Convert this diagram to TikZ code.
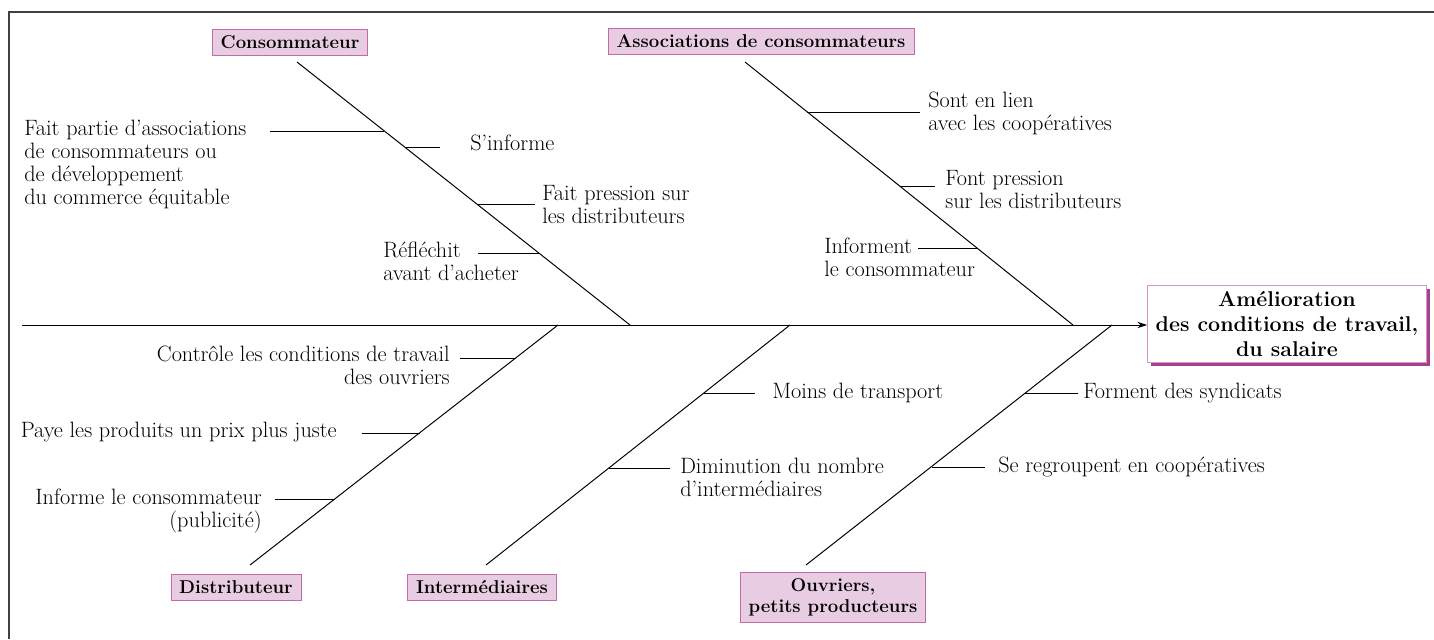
\documentclass[tikz,border=0pt]{standalone}
\usepackage{xcolor}
\usetikzlibrary{arrows.meta,shadows}

\definecolor{causefill}{HTML}{E8CCE2}
\definecolor{causeline}{HTML}{C26AAC}
\definecolor{effectshadow}{HTML}{A4428C}
\newcommand{\fishtxt}{\fontsize{15.8}{16.2}\selectfont}
\newcommand{\causetxt}{\fontsize{13.2}{15}\selectfont\bfseries}
\newcommand{\effecttxt}{\fontsize{15.2}{17.5}\selectfont\bfseries}

\tikzset{
  cause/.style={draw=causeline, fill=causefill, font=\causetxt,
    inner xsep=6pt, inner ysep=4.5pt, align=center},
  effect/.style={draw=causeline!70, fill=white, font=\effecttxt,
    align=center, minimum width=6.975cm, minimum height=1.925cm, inner sep=1pt,
    drop shadow={shadow xshift=2.5pt, shadow yshift=-2.5pt, fill=effectshadow, opacity=1}},
  lbl/.style={font=\fishtxt, inner sep=0pt},
  bone/.style={line width=0.7pt},
  twig/.style={line width=0.6pt},
}

\begin{document}
\begin{tikzpicture}[x=0.025cm,y=-0.025cm]
  \useasboundingbox (0,0) rectangle (1434,639);
  \draw[line width=0.9pt, black!75] (9,639) -- (9,12) -- (1434,12);

  % causes
  \node[cause] (cons) at (290,42) {Consommateur};
  \node[cause] (assoc) at (761,41) {Associations de consommateurs};
  \node[cause] (dist) at (236,587) {Distributeur};
  \node[cause] (inter) at (482,587) {Interm\'ediaires};
  \node[cause] (ouv) at (833,597) {Ouvriers,\\petits producteurs};
  \node[effect] (eff) at (1287,324) {Am\'elioration\\des conditions de travail,\\du salaire};

  % spine
  \coordinate (tail) at (22,325);
  \draw[bone,-{Stealth[length=7pt,width=4.5pt]}] (tail) -- (tail -| eff.west);

  % bones
  \coordinate (consA) at (297,62);    \coordinate (consB) at (630,325);
  \coordinate (assocA) at (745,62);   \coordinate (assocB) at (1073,325);
  \coordinate (distA) at (558,325);   \coordinate (distB) at (250,565);
  \coordinate (interA) at (790,325);  \coordinate (interB) at (486,565);
  \coordinate (ouvA) at (1112,325);   \coordinate (ouvB) at (806,565);
  \draw[bone] (consA) -- (consB);
  \draw[bone] (assocA) -- (assocB);
  \draw[bone] (distA) -- (distB);
  \draw[bone] (interA) -- (interB);
  \draw[bone] (ouvA) -- (ouvB);

  % Consommateur
  \node[lbl, anchor=north west, align=left] (c1) at (24,120)
    {Fait partie d'associations\\de consommateurs ou\\de d\'eveloppement\\du commerce \'equitable};
  \coordinate (c1a) at (270,131); \coordinate (c1b) at (384,131);
  \draw[twig] (c1a) -- (c1b);
  \node[lbl, anchor=west] (c2) at (470,143) {S'informe};
  \coordinate (c2a) at (405,147); \coordinate (c2b) at (440,147);
  \draw[twig] (c2a) -- (c2b);
  \node[lbl, anchor=north west, align=left] (c3) at (542,185) {Fait pression sur\\les distributeurs};
  \coordinate (c3a) at (477,204); \coordinate (c3b) at (535,204);
  \draw[twig] (c3a) -- (c3b);
  \node[lbl, anchor=north west, align=left] (c4) at (383,242) {R\'efl\'echit\\avant d'acheter};
  \coordinate (c4a) at (478,253); \coordinate (c4b) at (539,253);
  \draw[twig] (c4a) -- (c4b);

  % Associations de consommateurs
  \node[lbl, anchor=north west, align=left] (a1) at (928,92) {Sont en lien\\avec les coop\'eratives};
  \coordinate (a1a) at (807,112); \coordinate (a1b) at (920,112);
  \draw[twig] (a1a) -- (a1b);
  \node[lbl, anchor=north west, align=left] (a2) at (945,170) {Font pression\\sur les distributeurs};
  \coordinate (a2a) at (900,186); \coordinate (a2b) at (935,186);
  \draw[twig] (a2a) -- (a2b);
  \node[lbl, anchor=north west, align=left] (a3) at (824,238) {Informent\\le consommateur};
  \coordinate (a3a) at (918,248); \coordinate (a3b) at (977,248);
  \draw[twig] (a3a) -- (a3b);

  % Distributeur
  \node[lbl, anchor=north east, align=right] (d1) at (450,346) {Contr\^ole les conditions de travail\\des ouvriers};
  \coordinate (d1a) at (460,358); \coordinate (d1b) at (516,358);
  \draw[twig] (d1a) -- (d1b);
  \node[lbl, anchor=east] (d2) at (337,432) {Paye les produits un prix plus juste};
  \coordinate (d2a) at (362,433); \coordinate (d2b) at (420,433);
  \draw[twig] (d2a) -- (d2b);
  \node[lbl, anchor=north east, align=right] (d3) at (262,489) {Informe le consommateur\\(publicit\'e)};
  \coordinate (d3a) at (275,499); \coordinate (d3b) at (335,499);
  \draw[twig] (d3a) -- (d3b);

  % Intermediaires
  \node[lbl, anchor=west] (i1) at (772,393) {Moins de transport};
  \coordinate (i1a) at (704,393); \coordinate (i1b) at (755,393);
  \draw[twig] (i1a) -- (i1b);
  \node[lbl, anchor=north west, align=left] (i2) at (680,458) {Diminution du nombre\\d'interm\'ediaires};
  \coordinate (i2a) at (609,468); \coordinate (i2b) at (670,468);
  \draw[twig] (i2a) -- (i2b);

  % Ouvriers
  \node[lbl, anchor=west] (o1) at (1083,393) {Forment des syndicats};
  \coordinate (o1a) at (1025,393); \coordinate (o1b) at (1078,393);
  \draw[twig] (o1a) -- (o1b);
  \node[lbl, anchor=west] (o2) at (998,467) {Se regroupent en coop\'eratives};
  \coordinate (o2a) at (932,467); \coordinate (o2b) at (985,467);
  \draw[twig] (o2a) -- (o2b);
\end{tikzpicture}
\end{document}
